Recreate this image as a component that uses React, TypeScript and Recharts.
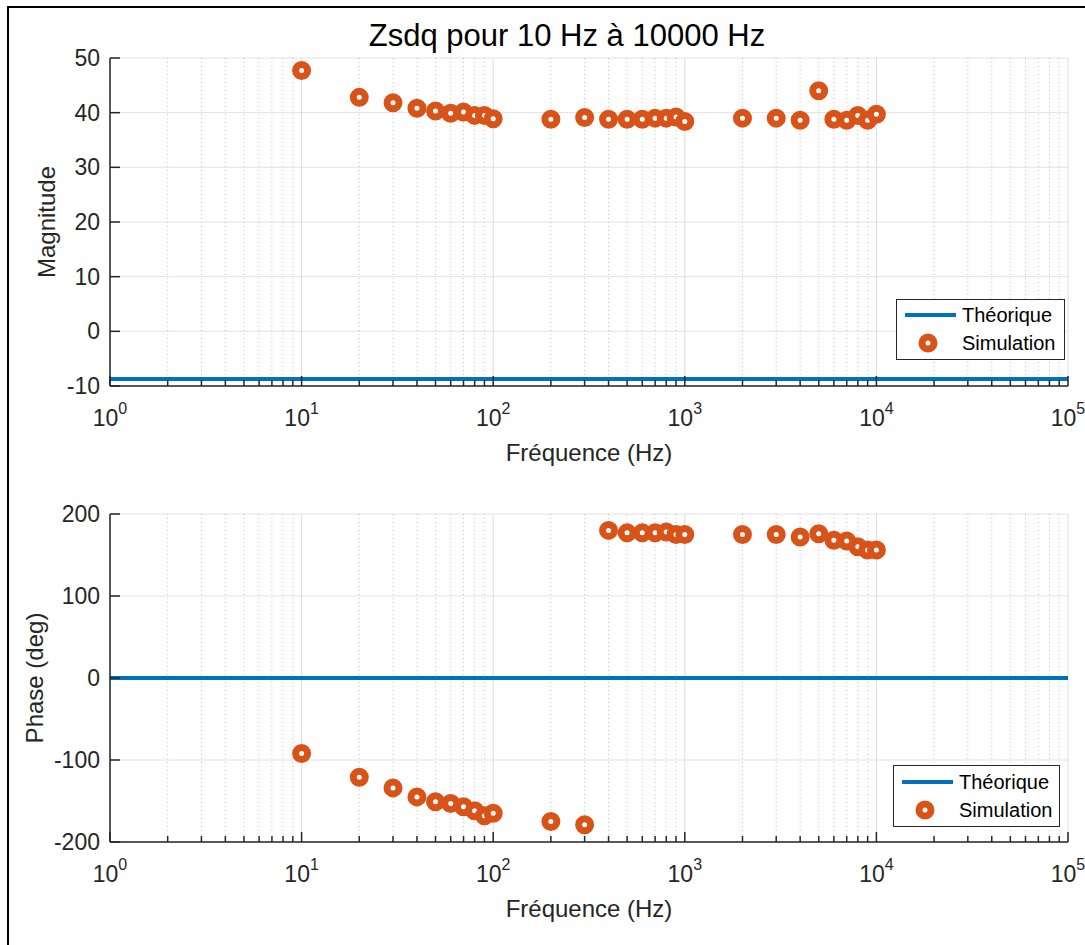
import { ComposedChart, Line, XAxis, YAxis, CartesianGrid } from 'recharts'

// fréquences simulées (Hz)
const freqs = [
  10, 20, 30, 40, 50, 60, 70, 80, 90, 100,
  200, 300, 400, 500, 600, 700, 800, 900, 1000,
  2000, 3000, 4000, 5000, 6000, 7000, 8000, 9000, 10000,
]
const magnitude = [
  47.7, 42.8, 41.8, 40.8, 40.3, 39.9, 40.1, 39.5, 39.5, 38.9,
  38.8, 39.1, 38.8, 38.8, 38.8, 39.0, 39.0, 39.2, 38.4,
  39.0, 39.0, 38.6, 44.0, 38.8, 38.6, 39.5, 38.6, 39.7,
]
const phase = [
  -92, -121, -134, -145, -151, -153, -157, -162, -168, -165,
  -175, -179, 180, 177, 177, 177, 178, 175, 175,
  175, 175, 172, 176, 168, 167, 160, 156, 156,
]
const theoFreqs = [1, 100000]
const theoMagnitude = -8.7
const theoPhase = 0

const majorTicks = [1, 10, 100, 1000, 10000, 100000]
const minorTicks = [0, 1, 2, 3, 4].flatMap((d) =>
  [2, 3, 4, 5, 6, 7, 8, 9].map((k) => k * 10 ** d),
)
const allTicks = [...majorTicks, ...minorTicks].sort((a, b) => a - b)
const magTicks = [-10, 0, 10, 20, 30, 40, 50]
const phaseTicks = [-200, -100, 0, 100, 200]

const magData = freqs.map((f, i) => ({ f, v: magnitude[i] }))
const phaseData = freqs.map((f, i) => ({ f, v: phase[i] }))
const theoMagData = theoFreqs.map((f) => ({ f, v: theoMagnitude }))
const theoPhaseData = theoFreqs.map((f) => ({ f, v: theoPhase }))

const AX = '#262626'
const BLUE = '#0072BD'
const ORANGE = '#D95319'
const FONT = '"Liberation Sans", Arial, sans-serif'

function XTick({ x, y, payload }: any) {
  const v = payload.value as number
  const e = Math.round(Math.log10(v))
  const major = Math.abs(Math.log10(v) - e) < 1e-9
  return (
    <g>
      <line x1={x} x2={x} y1={y} y2={y - (major ? 10 : 6)} stroke={AX} strokeWidth={1.5} />
      {major && (
        <text x={x} y={y + 40} textAnchor="middle" fill={AX} fontSize={23} fontFamily={FONT}>
          10
          <tspan dy={-12} fontSize={16}>
            {e}
          </tspan>
        </text>
      )}
    </g>
  )
}

function YTick({ x, y, payload }: any) {
  return (
    <g>
      <line x1={x} x2={x + 10} y1={y} y2={y} stroke={AX} strokeWidth={1.5} />
      <text x={x - 10} y={y + 8} textAnchor="end" fill={AX} fontSize={23} fontFamily={FONT}>
        {payload.value}
      </text>
    </g>
  )
}

function Panel({
  data,
  theo,
  domain,
  ticks,
}: {
  data: { f: number; v: number }[]
  theo: { f: number; v: number }[]
  domain: [number, number]
  ticks: number[]
}) {
  return (
    <ComposedChart width={1085} height={470} margin={{ top: 58, right: 17, left: 50, bottom: 24 }}>
      <CartesianGrid vertical={false} stroke="#e2e2e2" />
      <CartesianGrid horizontal={false} verticalValues={minorTicks} stroke="#c4c4c4" strokeDasharray="1 3" />
      <CartesianGrid horizontal={false} verticalValues={majorTicks} stroke="#dcdcdc" />
      <XAxis
        dataKey="f"
        type="number"
        scale="log"
        domain={[1, 100000]}
        ticks={allTicks}
        interval={0}
        allowDataOverflow
        height={60}
        tickLine={false}
        tickSize={0}
        tickMargin={0}
        tick={<XTick />}
        axisLine={{ stroke: AX, strokeWidth: 1.5 }}
      />
      <YAxis
        type="number"
        domain={domain}
        ticks={ticks}
        interval={0}
        width={60}
        tickLine={false}
        tickSize={0}
        tickMargin={0}
        tick={<YTick />}
        axisLine={{ stroke: AX, strokeWidth: 1.5 }}
      />
      <Line
        data={theo}
        dataKey="v"
        stroke={BLUE}
        strokeWidth={4}
        dot={false}
        activeDot={false}
        isAnimationActive={false}
      />
      <Line
        data={data}
        dataKey="v"
        stroke="none"
        dot={{ r: 6, fill: '#fff', stroke: ORANGE, strokeWidth: 7 }}
        activeDot={false}
        isAnimationActive={false}
      />
    </ComposedChart>
  )
}

function LegendBox({ left, top, width, height }: { left: number; top: number; width: number; height: number }) {
  const r1 = Math.round(height * 0.27)
  const r2 = Math.round(height * 0.72)
  return (
    <div
      style={{
        position: 'absolute',
        left,
        top,
        width,
        height,
        border: `1.3px solid ${AX}`,
        background: '#fff',
        boxSizing: 'border-box',
      }}
    >
      <svg width={width} height={height} style={{ position: 'absolute', left: -1, top: -1 }}>
        <line x1={9} x2={60} y1={r1} y2={r1} stroke={BLUE} strokeWidth={4} />
        <text x={66} y={r1 + 7} fontSize={20} fontFamily={FONT} fill="#000">
          Théorique
        </text>
        <circle cx={32} cy={r2} r={6} fill="#fff" stroke={ORANGE} strokeWidth={7} />
        <text x={66} y={r2 + 7} fontSize={20} fontFamily={FONT} fill="#000">
          Simulation
        </text>
      </svg>
    </div>
  )
}

export default function App() {
  return (
    <div
      style={{
        position: 'absolute',
        left: 0,
        top: 0,
        width: 1085,
        height: 945,
        background: '#fff',
        overflow: 'hidden',
        fontFamily: FONT,
      }}
    >
      <div
        style={{
          position: 'absolute',
          left: 7,
          top: 6,
          width: 1100,
          height: 960,
          border: '2px solid #000',
        }}
      />
      <div style={{ position: 'absolute', left: 0, top: 0 }}>
        <Panel data={magData} theo={theoMagData} domain={[-10, 50]} ticks={magTicks} />
      </div>
      <div style={{ position: 'absolute', left: 0, top: 456 }}>
        <Panel data={phaseData} theo={theoPhaseData} domain={[-200, 200]} ticks={phaseTicks} />
      </div>
      <svg
        width={1085}
        height={945}
        style={{ position: 'absolute', left: 0, top: 0, pointerEvents: 'none' }}
        fontFamily={FONT}
      >
        <text x={567} y={46} textAnchor="middle" fontSize={31} fill="#000">
          Zsdq pour 10 Hz à 10000 Hz
        </text>
        <text transform="translate(55,222) rotate(-90)" textAnchor="middle" fontSize={24} fill={AX}>
          Magnitude
        </text>
        <text x={589} y={461} textAnchor="middle" fontSize={24} fill={AX}>
          Fréquence (Hz)
        </text>
        <text transform="translate(43,678) rotate(-90)" textAnchor="middle" fontSize={24} fill={AX}>
          Phase (deg)
        </text>
        <text x={589} y={917} textAnchor="middle" fontSize={24} fill={AX}>
          Fréquence (Hz)
        </text>
      </svg>
      <LegendBox left={896} top={299} width={169} height={61} />
      <LegendBox left={893} top={765} width={167} height={62} />
    </div>
  )
}
